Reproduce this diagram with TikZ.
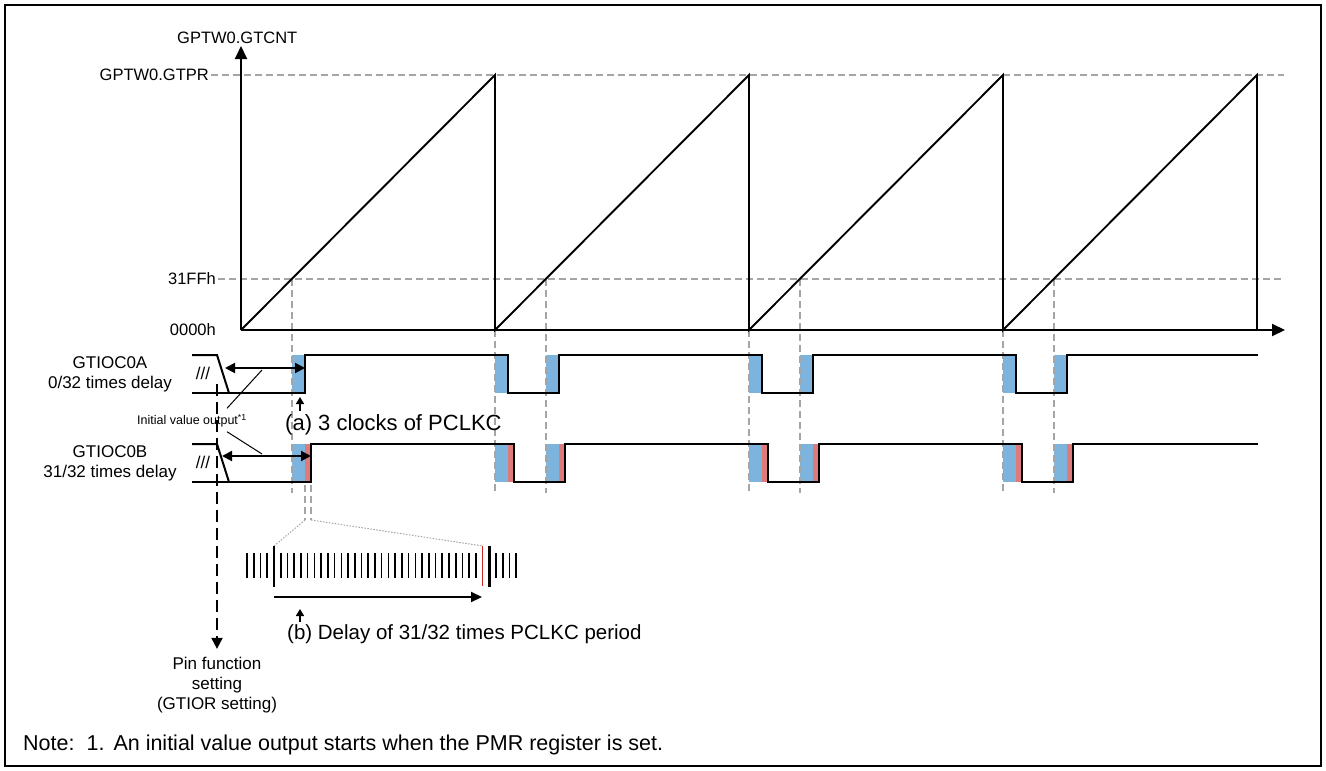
\documentclass[tikz,border=0pt]{standalone}
\usepackage{fontspec}
\setmainfont{Liberation Sans}
\usetikzlibrary{arrows.meta,calc}
\definecolor{cblue}{RGB}{124,180,222}
\definecolor{cred}{RGB}{222,122,122}
\definecolor{tickred}{RGB}{200,40,40}
\definecolor{gline}{RGB}{165,165,165}
\begin{document}
\begin{tikzpicture}[x=1pt,y=-1pt,
  sig/.style={line width=2pt},
  axisline/.style={line width=2pt,-{Triangle[length=13pt,width=12pt]}},
  saw/.style={line width=1.9pt,line join=miter},
  guide/.style={gline,line width=1.2pt,dash pattern=on 7pt off 4pt},
  dotguide/.style={gline,line width=1pt,dash pattern=on 1.5pt off 1.5pt},
  lbl/.style={font=\fontsize{16.5}{19}\selectfont,inner sep=0pt},
  siglbl/.style={font=\fontsize{17}{19}\selectfont,inner sep=0pt},
  big/.style={font=\fontsize{20.5}{24}\selectfont,inner sep=0pt},
  tiny/.style={font=\fontsize{12.5}{14}\selectfont,inner sep=0pt},
  dblarrow/.style={line width=2pt,{Triangle[length=10pt,width=10pt]}-{Triangle[length=10pt,width=10pt]}},
  smallup/.style={line width=1.5pt,-{Triangle[length=7pt,width=8pt]}},
  leader/.style={line width=1pt},
  tickn/.style={line width=1.6pt},
  tickb/.style={line width=2.6pt},
  bluebox/.style={fill=cblue,draw=none},
  redbox/.style={fill=cred,draw=none}]
\useasboundingbox (0,0) rectangle (1326,771);
\draw[line width=1.5pt] (5,5) rectangle (1321,766);

% ---- colored boxes
\foreach \k in {0,...,3}{
  \pgfmathsetmacro\xk{241+254*\k}
  \fill[bluebox] (\xk+51,355) rectangle (\xk+64,393);
  \fill[bluebox] (\xk+51,444) rectangle (\xk+64,482);
  \fill[redbox]  (\xk+64,444) rectangle (\xk+70,482);
}
\foreach \k in {1,...,3}{
  \pgfmathsetmacro\xk{241+254*\k}
  \fill[bluebox] (\xk,355) rectangle (\xk+13,393);
  \fill[bluebox] (\xk,444) rectangle (\xk+13,482);
  \fill[redbox]  (\xk+13,444) rectangle (\xk+19,482);
}

% ---- guide lines
\draw[guide] (211,75) -- (1284,75);
\draw[guide] (218,279) -- (1284,279);
\foreach \k in {0,...,3}{
  \pgfmathsetmacro\xk{241+254*\k}
  \draw[guide] (\xk+51,279) -- (\xk+51,493);
}
\foreach \k in {1,...,3}{
  \pgfmathsetmacro\xk{241+254*\k}
  \draw[guide] (\xk,330) -- (\xk,493);
}

% ---- axes and counter
\node[lbl,anchor=west] (ycap) at (177,38) {GPTW0.GTCNT};
\coordinate (orig) at (241,330);
\coordinate (ytip) at (241,46);
\coordinate (xtip) at (1285,330);
\draw[axisline] (orig) -- (ytip);
\draw[axisline] (orig) -- (xtip);
\draw[saw] (241,330) -- (495,75) -- (495,330) -- (749,75) -- (749,330)
  -- (1003,75) -- (1003,330) -- (1257,75) -- (1257,330);
\node[lbl,anchor=east] (gtpr) at (209,75) {GPTW0.GTPR};
\node[lbl,anchor=east] (v31) at (216,279) {31FFh};
\node[lbl,anchor=east] (v00) at (216,330) {0000h};

% ---- signal labels
\node[siglbl] (la1) at (110,363) {GTIOC0A};
\node[siglbl] (la2) at (110,384) {0/32 times delay};
\node[siglbl] (lb1) at (110,452) {GTIOC0B};
\node[siglbl] (lb2) at (110,473) {31/32 times delay};

% ---- pin function setting arrow
\node[lbl,align=center,font=\fontsize{17}{20}\selectfont] (pin) at (217,685)
  {Pin function\\setting\\(GTIOR setting)};
\coordinate (pintop) at (217,384);
\draw[line width=2pt,dash pattern=on 12pt off 6pt,-{Triangle[length=11pt,width=11pt]}]
  (pintop) -- ($(pin.north)+(0,-8)$);

% ---- signals
\draw[sig] (192,355) -- (217,355) -- (229,393);
\draw[sig] (192,393) -- (305,393) -- (305,355) -- (508,355) -- (508,393) -- (559,393)
  -- (559,355) -- (762,355) -- (762,393) -- (813,393) -- (813,355) -- (1016,355)
  -- (1016,393) -- (1067,393) -- (1067,355) -- (1258,355);
\draw[sig] (192,444) -- (217,444) -- (229,482);
\draw[sig] (192,482) -- (311,482) -- (311,444) -- (514,444) -- (514,482) -- (565,482)
  -- (565,444) -- (768,444) -- (768,482) -- (819,482) -- (819,444) -- (1022,444)
  -- (1022,482) -- (1073,482) -- (1073,444) -- (1258,444);
\node[lbl,font=\fontsize{17}{19}\selectfont] (hatA) at (203,373) {///};
\node[lbl,font=\fontsize{17}{19}\selectfont] (hatB) at (203,462) {///};

% ---- initial value arrows
\coordinate (ivaL) at (225,368);
\coordinate (ivaR) at (305,368);
\coordinate (ivbL) at (222,456);
\coordinate (ivbR) at (311,456);
\draw[dblarrow] (ivaL) -- (ivaR);
\draw[dblarrow] (ivbL) -- (ivbR);
\node[tiny] (ivo) at (192,421) {Initial value output\textsuperscript{*1}};
\coordinate (ldA) at (262,370);
\coordinate (ldB) at (262,454);
\draw[leader] ($(ivo.north east)+(-20,-6)$) -- (ldA);
\draw[leader] ($(ivo.south east)+(-20,4)$) -- (ldB);

% ---- (a) annotation
\node[big,anchor=west,font=\fontsize{22}{25}\selectfont] (capa) at (285,425) {(a) 3 clocks of PCLKC};
\coordinate (atip) at (300,397);
\draw[smallup] (300,411) -- (atip);

% ---- zoom of delay
\draw[guide] (305,485) -- (305,520);
\draw[guide] (311,485) -- (311,520);
\coordinate (zl) at (274,546);
\coordinate (zr) at (483,546);
\draw[dotguide] (305,520) -- (zl);
\draw[dotguide] (311,520) -- (zr);
\foreach \i in {-4,...,36}{
  \pgfmathsetmacro\tx{274+6.73*\i}
  \ifnum\i=0 \draw[tickb] (\tx,546) -- (\tx,587);
  \else\ifnum\i=32 \draw[tickb] (\tx,546) -- (\tx,587);
  \else\ifnum\i=31 \draw[tickred,line width=1.1pt] (\tx,546) -- (\tx,586);
  \else \draw[tickn] (\tx,553) -- (\tx,578);
  \fi\fi\fi
}
\coordinate (dl) at (274,597);
\coordinate (dr) at (482,597);
\draw[line width=2pt,-{Triangle[length=11pt,width=10pt]}] (dl) -- (dr);
\node[big,anchor=west] (capb) at (287,634) {(b) Delay of 31/32 times PCLKC period};
\coordinate (btip) at (300,609);
\draw[smallup] (300,622) -- (btip);

% ---- note
\node[big,anchor=west,font=\fontsize{21.5}{25}\selectfont] (note) at (23,745) {Note:\hspace{12pt}1.\hspace{9pt}An initial value output starts when the PMR register is set.};
\end{tikzpicture}
\end{document}
